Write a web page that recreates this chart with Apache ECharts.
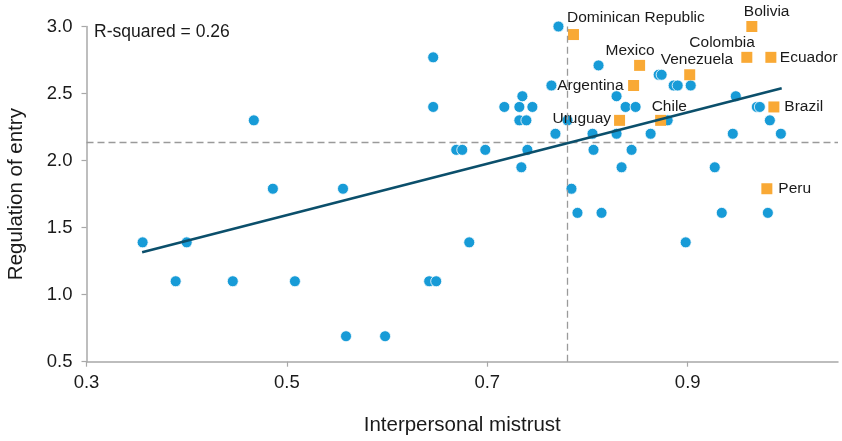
<!DOCTYPE html>
<html><head><meta charset="utf-8">
<script src="https://cdn.jsdelivr.net/npm/echarts@6/dist/echarts.min.js"></script>
<style>html,body{margin:0;padding:0;background:#fff}#c{width:842px;height:441px}</style>
</head><body><div id="c"></div>
<script>
// Other countries (blue circles)
const otherMistrust = [0.356,0.400,0.389,0.446,0.508,0.559,0.598,0.467,0.486,0.556,
  0.642,0.649,0.682,0.646,0.646,0.669,0.675,0.698,0.717,0.732,
  0.745,0.735,0.732,0.739,0.740,0.734,0.768,0.764,0.771,0.780,
  0.784,0.790,0.814,0.811,0.805,0.806,0.829,0.838,0.848,0.829,
  0.863,0.844,0.834,0.871,0.874,0.886,0.890,0.903,0.880,0.898,
  0.927,0.934,0.980,0.948,0.969,0.972,0.982,0.945,0.993];
const otherRegulation = [1.39,1.39,1.10,1.10,1.10,0.69,0.69,2.30,1.79,1.79,
  1.10,1.10,1.39,2.77,2.40,2.08,2.08,2.08,2.40,2.40,
  2.40,2.48,2.30,2.30,2.08,1.95,2.20,2.56,3.00,2.30,
  1.79,1.61,1.61,2.71,2.20,2.08,2.48,2.40,2.40,2.20,
  2.20,2.08,1.95,2.64,2.64,2.56,2.56,2.56,2.30,1.39,
  1.95,1.61,1.61,2.48,2.40,2.40,2.30,2.20,2.20];
// Highlighted countries (orange squares)
const countries = ['Dominican Republic','Bolivia','Colombia','Ecuador','Mexico','Venezuela','Argentina','Uruguay','Chile','Brazil','Peru'];
const countryMistrust = [0.786,0.964,0.959,0.983,0.852,0.902,0.846,0.832,0.873,0.986,0.979];
const countryRegulation = [2.94,3.00,2.77,2.77,2.71,2.64,2.56,2.30,2.30,2.40,1.79];
// Fitted line end points
const fitMistrust = [0.3555, 0.9938];
const fitRegulation = [1.316, 2.539];
// Reference (mean) lines
const meanMistrust = 0.7837;
const meanRegulation = 2.136;
const xTickValues = [0.3, 0.5, 0.7, 0.9];
const rSquaredText = 'R-squared = 0.26';

// label placement (layout only): [dx, dy, align] relative to marker centre
const labelLayout = {
  'Dominican Republic': [-6.5, -17, 'left'],
  'Bolivia': [-8, -15, 'left'],
  'Colombia': [8, -15, 'right'],
  'Ecuador': [9, 0, 'left'],
  'Mexico': [15, -15, 'right'],
  'Venezuela': [-29, -15, 'left'],
  'Argentina': [-10, 0, 'right'],
  'Uruguay': [-8.5, -2, 'right'],
  'Chile': [-9, -14, 'left'],
  'Brazil': [10.5, 0, 'left'],
  'Peru': [11.5, 0, 'left']
};

const FF = "'Liberation Sans',Arial,sans-serif";
const TXT = '#1a1a1a';
const AX = '#a8a8a8';
const SYM = 11;

const blueData = otherMistrust.map((x, i) => [x, otherRegulation[i]]);
const orangeData = countries.map((c, i) => {
  const l = labelLayout[c];
  return {
    name: c,
    value: [countryMistrust[i], countryRegulation[i]],
    label: {
      show: true, formatter: c,
      position: [SYM / 2 + l[0], SYM / 2 + l[1]],
      align: l[2], verticalAlign: 'middle',
      fontFamily: FF, fontSize: 15.5, color: TXT
    }
  };
});
const fitData = fitMistrust.map((x, i) => [x, fitRegulation[i]]);

const chart = echarts.init(document.getElementById('c'), null, {renderer: 'canvas'});
chart.setOption({
  animation: false,
  backgroundColor: '#fff',
  grid: {left: 86.5, right: 4, top: 26.5, bottom: 79.3, containLabel: false, outerBoundsMode: 'none'},
  xAxis: {
    type: 'value', min: 0.3, max: 1.05,
    name: 'Interpersonal mistrust', nameLocation: 'middle', nameGap: 53,
    nameTextStyle: {fontFamily: FF, fontSize: 20.5, color: TXT},
    axisLine: {show: true, onZero: false, lineStyle: {color: AX, width: 1.5}},
    axisTick: {show: true, customValues: xTickValues, length: 5, lineStyle: {color: AX, width: 1.2}},
    axisLabel: {customValues: xTickValues, formatter: v => v.toFixed(1), fontFamily: FF, fontSize: 18.5, color: TXT, margin: 12},
    splitLine: {show: false}
  },
  yAxis: {
    type: 'value', min: 0.5, max: 3.0, interval: 0.5,
    name: 'Regulation of entry', nameLocation: 'middle', nameGap: 60, nameRotate: 90,
    nameTextStyle: {fontFamily: FF, fontSize: 20.5, color: TXT},
    axisLine: {show: true, onZero: false, lineStyle: {color: AX, width: 1.5}},
    axisTick: {show: true, length: 5, lineStyle: {color: AX, width: 1.2}},
    axisLabel: {formatter: v => v.toFixed(1), fontFamily: FF, fontSize: 18.5, color: TXT, margin: 14},
    splitLine: {show: false}
  },
  graphic: [{
    type: 'text', left: 94, top: 23, z: 10,
    style: {text: rSquaredText, font: '17.5px ' + FF, fill: TXT}
  }],
  series: [
    {
      type: 'scatter', data: [], z: 1, silent: true,
      markLine: {
        silent: true, symbol: 'none', animation: false,
        label: {show: false},
        lineStyle: {color: '#9a9a9a', width: 1.3, type: [7, 4]},
        data: [{xAxis: meanMistrust}, {yAxis: meanRegulation}]
      }
    },
    {
      type: 'scatter', data: blueData, z: 2, symbol: 'circle', symbolSize: SYM,
      itemStyle: {color: '#179bd7', borderColor: '#fff', borderWidth: 0.8, opacity: 1}
    },
    {
      type: 'scatter', data: orangeData, z: 4, symbol: 'rect', symbolSize: SYM,
      itemStyle: {color: '#f9a935', opacity: 1}
    },
    {
      type: 'line', data: fitData, z: 5, showSymbol: false, symbol: 'none',
      lineStyle: {color: '#0b4f6b', width: 2.6}
    }
  ]
});
</script></body></html>
